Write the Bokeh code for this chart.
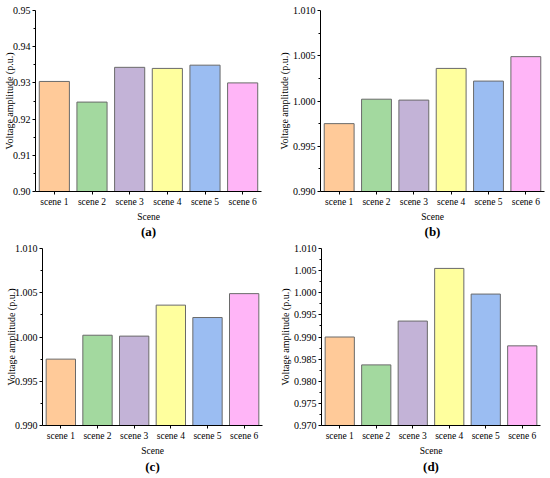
from bokeh.plotting import figure
from bokeh.models import (FactorRange, Range1d, FixedTicker, NumeralTickFormatter,
                          Title, ColumnDataSource)
from bokeh.layouts import column, row
from bokeh.embed import file_html
from bokeh.resources import INLINE

scenes = ["scene 1", "scene 2", "scene 3", "scene 4", "scene 5", "scene 6"]
colors = ["#FFCA99", "#A3D99F", "#C3B3D7", "#FFFF9E", "#9BBDF2", "#FFB5F7"]

vals_a = [0.9304, 0.9247, 0.9343, 0.9340, 0.9349, 0.9300]
vals_b = [0.9975, 1.0002, 1.0001, 1.0036, 1.0022, 1.0049]
vals_c = [0.9975, 1.0002, 1.0001, 1.0036, 1.0022, 1.0049]
vals_d = [0.9900, 0.9837, 0.9936, 1.0055, 0.9997, 0.9880]

ticks_a = [0.90, 0.91, 0.92, 0.93, 0.94, 0.95]
ticks_b = [0.990, 0.995, 1.000, 1.005, 1.010]
ticks_c = [0.990, 0.995, 1.000, 1.005, 1.010]
ticks_d = [0.970, 0.975, 0.980, 0.985, 0.990, 0.995, 1.000, 1.005, 1.010]

FONT = "Liberation Serif"


def make(vals, ticks, fmt, tag, width, height, bl, br, bt, frame_h, tag_standoff, ylab_standoff):
    src = ColumnDataSource(dict(x=scenes, top=vals, color=colors))
    p = figure(x_range=FactorRange(factors=scenes, range_padding=0),
               y_range=Range1d(ticks[0], ticks[-1]),
               width=width, height=height, output_backend="svg",
               toolbar_location=None, min_border_left=bl, min_border_right=br,
               min_border_top=bt, min_border_bottom=height - bt - frame_h)
    p.vbar(x="x", top="top", bottom=ticks[0], width=0.8, source=src,
           fill_color="color", line_color="#6A6A6A", line_width=1)
    p.outline_line_color = None
    p.grid.grid_line_color = None

    ya = p.yaxis[0]
    step = ticks[1] - ticks[0]
    minors = [t + step / 2 for t in ticks[:-1]]
    ya.ticker = FixedTicker(ticks=ticks, minor_ticks=minors)
    ya.formatter = NumeralTickFormatter(format=fmt)
    ya.axis_label = "Voltage amplitude (p.u.)"
    ya.axis_label_text_font = FONT
    ya.axis_label_text_font_style = "normal"
    ya.axis_label_text_font_size = "10px"
    ya.axis_label_text_color = "black"
    ya.axis_label_text_line_height = 1.0
    ya.axis_label_standoff = ylab_standoff
    ya.major_tick_in = 0
    ya.major_tick_out = 3
    ya.minor_tick_in = 0
    ya.minor_tick_out = 2
    ya.major_label_standoff = 2
    ya.major_label_text_font = FONT
    ya.major_label_text_font_size = "10px"
    ya.major_label_text_color = "black"
    ya.axis_line_color = "black"
    ya.major_tick_line_color = "black"
    ya.minor_tick_line_color = "black"

    xa = p.xaxis[0]
    xa.major_label_text_font = FONT
    xa.major_label_text_font_size = "9.5px"
    xa.major_label_text_color = "black"
    xa.major_label_standoff = 2
    xa.major_tick_in = 0
    xa.major_tick_out = 3
    xa.axis_line_color = "black"
    xa.major_tick_line_color = "black"

    p.add_layout(Title(text="Scene", align="center", text_font=FONT,
                       text_font_size="9.5px", text_font_style="normal",
                       text_color="black", standoff=0), "below")
    p.add_layout(Title(text=tag, align="center", text_font=FONT,
                       text_font_size="13px", text_font_style="bold",
                       text_color="black", standoff=tag_standoff), "below")
    return p


pa = make(vals_a, ticks_a, "0.00", "(a)", 275, 240, 35, 14, 10, 182, 0, -5)
pb = make(vals_b, ticks_b, "0.000", "(b)", 275, 240, 43, 6, 10, 181, 0, 0)
pc = make(vals_c, ticks_c, "0.000", "(c)", 275, 238, 42, 13, 8, 178, 3, -5)
pd = make(vals_d, ticks_d, "0.000", "(d)", 275, 238, 46, 10, 8, 177, 3, 0)

layout = column(row(pa, pb, spacing=0), row(pc, pd, spacing=0), spacing=0)
open("out.html", "w").write(file_html(layout, INLINE))
